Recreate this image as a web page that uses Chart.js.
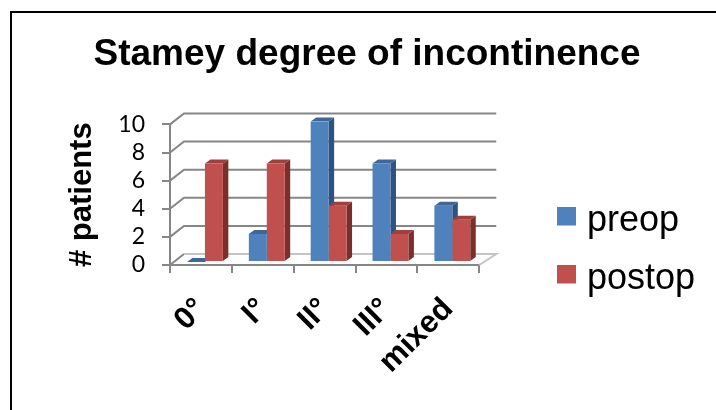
<!DOCTYPE html>
<html>
<head>
<meta charset="utf-8">
<title>Stamey degree of incontinence</title>
<script src="https://cdn.jsdelivr.net/npm/chart.js@4"></script>
<style>
    html, body { margin: 0; padding: 0; background: #fff; overflow: hidden; }
    #wrap { position: absolute; left: 0; top: 0; width: 716px; height: 410px; overflow: hidden; }
    #frame { position: absolute; left: 10px; top: 11px; width: 716px; height: 410px; border: 2px solid #000; }
</style>
</head>
<body>
<div id="wrap">
    <div id="frame"></div>
    <canvas id="chart" width="716" height="410" style="position:absolute;left:0;top:0"></canvas>
</div>
<script>
const categories = ['0°', 'I°', 'II°', 'III°', 'mixed'];
const preop = [0, 2, 10, 7, 4];
const postop = [7, 7, 4, 2, 3];
const yTicks = [0, 2, 4, 6, 8, 10];
const seriesColors = ['#4f81bd', '#c0504d'];

const axisGrey = '#868686';

// the 3d look: back wall, floor and the side + top of every bar
const wallDx = 14, wallDy = -11;
const barDx = 4, barDy = -3;
const depthDx = 5.5, depthDy = -4;

function face(ctx, pts, color) {
    ctx.fillStyle = color;
    ctx.beginPath();
    pts.forEach((p, i) => i ? ctx.lineTo(p[0], p[1]) : ctx.moveTo(p[0], p[1]));
    ctx.closePath();
    ctx.fill();
}

// legend swatch sits a bit above the middle of its label, so the marker canvas is taller than the square
function swatch(color) {
    const c = document.createElement('canvas');
    c.width = 19;
    c.height = 30;
    const g = c.getContext('2d');
    g.fillStyle = color;
    g.fillRect(0, 0, 19, 19);
    return c;
}

const walls = {
    id: 'walls',
    beforeDatasetsDraw(chart) {
        const { ctx, chartArea: a, scales: { y } } = chart;
        ctx.save();
        ctx.strokeStyle = axisGrey;
        ctx.lineWidth = 2;
        yTicks.forEach(v => {
            const py = y.getPixelForValue(v);
            ctx.beginPath();
            ctx.moveTo(a.left, py);
            ctx.lineTo(a.left + wallDx, py + wallDy);
            if (v !== 0) {
                ctx.lineTo(a.right + wallDx + 3, py + wallDy);
            }
            ctx.stroke();
        });
        // floor
        const py0 = y.getPixelForValue(0);
        ctx.strokeStyle = '#c4c4c4';
        ctx.beginPath();
        ctx.moveTo(a.left + wallDx, py0 + wallDy);
        ctx.lineTo(a.right + wallDx + 3, py0 + wallDy);
        ctx.lineTo(a.right, py0);
        ctx.stroke();
        ctx.restore();
    }
};

const bars3d = {
    id: 'bars3d',
    beforeDatasetsDraw(chart) {
        const { ctx } = chart;
        const shades = [
            { side: '#2f5380', top: '#3e6797' },
            { side: '#7a2f2d', top: '#a13f3c' }
        ];
        // library draws the front faces shifted the same way, restored in afterDatasetsDraw
        ctx.save();
        ctx.translate(barDx, barDy);
        chart.data.datasets.forEach((ds, d) => {
            chart.getDatasetMeta(d).data.forEach(bar => {
                const { x, y, base, width } = bar.getProps(['x', 'y', 'base', 'width']);
                const l = x - width / 2, r = x + width / 2;
                if (base - y > 0.5) {
                    face(ctx, [[r, y], [r + depthDx, y + depthDy], [r + depthDx, base + depthDy], [r, base]], shades[d].side);
                }
                face(ctx, [[l, y], [l + depthDx, y + depthDy], [r + depthDx, y + depthDy], [r, y]], shades[d].top);
            });
        });
    },
    afterDatasetsDraw(chart) {
        chart.ctx.restore();
    }
};

// put the legend where the original has it, away from the plot; title centred over the whole frame
const placeBoxes = {
    id: 'placeBoxes',
    afterLayout(chart) {
        const l = chart.legend;
        const w = l.right - l.left;
        l.left = 542;
        l.right = 542 + w;
        l.top = 181.5;
        l.bottom = 400;
        chart.titleBlock.left = 18;
        chart.titleBlock.right = 716;
    }
};

new Chart(document.getElementById('chart').getContext('2d'), {
    type: 'bar',
    data: {
        labels: categories,
        datasets: [
            { label: 'preop', data: preop, backgroundColor: seriesColors[0], categoryPercentage: 0.58, barPercentage: 1 },
            { label: 'postop', data: postop, backgroundColor: seriesColors[1], categoryPercentage: 0.58, barPercentage: 1 }
        ]
    },
    plugins: [walls, bars3d, placeBoxes],
    options: {
        responsive: false,
        animation: false,
        layout: { padding: { left: 18, right: 83, top: 33, bottom: 0 } },
        plugins: {
            title: {
                display: true,
                text: 'Stamey degree of incontinence',
                color: '#000',
                font: { family: 'Liberation Sans', size: 37, weight: 'bold' },
                padding: { top: 0, bottom: 47 }
            },
            legend: {
                position: 'right',
                align: 'start',
                labels: {
                    color: '#000',
                    usePointStyle: true,
                    boxWidth: 5,
                    boxHeight: 19,
                    padding: 22,
                    font: { family: 'Liberation Sans', size: 36 },
                    generateLabels(chart) {
                        return Chart.defaults.plugins.legend.labels.generateLabels(chart)
                            .map((item, i) => ({ ...item, pointStyle: swatch(seriesColors[i]) }));
                    }
                }
            },
            tooltip: { enabled: false }
        },
        scales: {
            x: {
                afterFit(s) { s.height = 145; },
                grid: { offset: true, drawOnChartArea: false, color: axisGrey, lineWidth: 2, tickLength: 8 },
                border: { color: axisGrey, width: 2 },
                ticks: {
                    color: '#000',
                    autoSkip: false,
                    minRotation: 45,
                    maxRotation: 45,
                    padding: 18,
                    font: { family: 'Liberation Sans', size: 31, weight: 'bold' }
                }
            },
            y: {
                min: 0,
                max: 10,
                afterFit(s) { s.width = 152; },
                afterBuildTicks(s) { s.ticks = yTicks.map(v => ({ value: v })); },
                grid: { drawOnChartArea: false, color: axisGrey, lineWidth: 2, tickLength: 8 },
                border: { color: axisGrey, width: 2 },
                ticks: {
                    color: '#000',
                    autoSkip: false,
                    padding: 17,
                    font: { family: 'Lato', size: 23 }
                },
                title: {
                    display: true,
                    text: '# patients',
                    color: '#000',
                    font: { family: 'Liberation Sans', size: 31, weight: 'bold' },
                    padding: { top: 46, bottom: 0 }
                }
            }
        }
    }
});
</script>
</body>
</html>
